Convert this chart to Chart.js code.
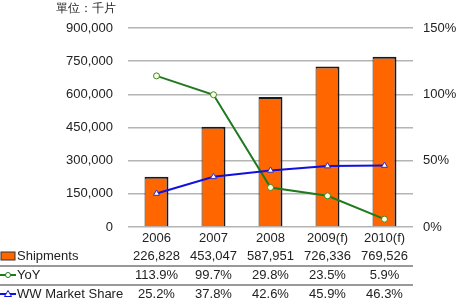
<!DOCTYPE html>
<html>
<head>
<meta charset="utf-8">
<script src="https://cdn.jsdelivr.net/npm/chart.js@4"></script>
<style>
  body { margin: 0; background: #fff; }
  #wrap { width: 463px; height: 306px; }
</style>
</head>
<body>
<div id="wrap"><canvas id="chart" width="463" height="306"></canvas></div>
<script>
// chart data
const years = ["2006", "2007", "2008", "2009(f)", "2010(f)"];
const shipments = [226828, 453047, 587951, 726336, 769526];
const yoy = [113.9, 99.7, 29.8, 23.5, 5.9];
const marketShare = [25.2, 37.8, 42.6, 45.9, 46.3];
const unitLabel = "單位：千片";

const FONT = "Liberation Sans, Arial, sans-serif";

// draws unit title + the data table under the plot
const tablePlugin = {
  id: "dataTable",
  afterDraw(chart) {
    const ctx = chart.ctx;
    const x = chart.scales.x;
    ctx.save();
    ctx.fillStyle = "#222";
    ctx.font = "12px " + FONT;
    ctx.textBaseline = "middle";
    ctx.textAlign = "left";
    ctx.fillText(unitLabel, 56, 9);

    ctx.font = "13px " + FONT;
    ctx.textAlign = "center";
    years.forEach((y, i) => ctx.fillText(y, x.getPixelForValue(i), 238));

    const rows = [
      { name: "Shipments", y: 256, vals: shipments.map(v => v.toLocaleString("en-US")) },
      { name: "YoY", y: 275, vals: yoy.map(v => v.toFixed(1) + "%") },
      { name: "WW Market Share", y: 294, vals: marketShare.map(v => v.toFixed(1) + "%") }
    ];

    // separator lines
    ctx.strokeStyle = "#999";
    ctx.lineWidth = 2;
    [266, 285].forEach(ly => {
      ctx.beginPath();
      ctx.moveTo(0, ly);
      ctx.lineTo(chart.chartArea.right, ly);
      ctx.stroke();
    });

    rows.forEach((r, ri) => {
      ctx.fillStyle = "#222";
      ctx.textAlign = "left";
      ctx.fillText(r.name, 17, r.y);
      ctx.textAlign = "center";
      r.vals.forEach((v, i) => ctx.fillText(v, x.getPixelForValue(i), r.y));

      // legend swatches
      if (ri === 0) {
        ctx.fillStyle = "#ff6600";
        ctx.strokeStyle = "#333";
        ctx.lineWidth = 1;
        ctx.fillRect(1, r.y - 4, 14, 8);
        ctx.strokeRect(1, r.y - 4, 14, 8);
      } else if (ri === 1) {
        ctx.strokeStyle = "#1e7a1e";
        ctx.lineWidth = 2;
        ctx.beginPath(); ctx.moveTo(0, r.y); ctx.lineTo(16, r.y); ctx.stroke();
        ctx.fillStyle = "#fff";
        ctx.lineWidth = 1;
        ctx.beginPath(); ctx.arc(8, r.y, 2.5, 0, Math.PI * 2); ctx.fill(); ctx.stroke();
      } else {
        ctx.strokeStyle = "#1010e0";
        ctx.lineWidth = 2;
        ctx.beginPath(); ctx.moveTo(0, r.y); ctx.lineTo(16, r.y); ctx.stroke();
        ctx.fillStyle = "#fff";
        ctx.lineWidth = 1;
        ctx.beginPath(); ctx.moveTo(8, r.y - 3.5); ctx.lineTo(11.5, r.y + 2.5); ctx.lineTo(4.5, r.y + 2.5); ctx.closePath(); ctx.fill(); ctx.stroke();
      }
    });
    ctx.restore();
  }
};

new Chart(document.getElementById("chart"), {
  data: {
    labels: years,
    datasets: [
      {
        type: "line",
        label: "YoY",
        data: yoy,
        yAxisID: "y1",
        borderColor: "#1e7a1e",
        borderWidth: 2,
        pointStyle: "circle",
        pointRadius: 3,
        pointBackgroundColor: "#ffffdd",
        pointBorderColor: "#3a8a2a",
        pointBorderWidth: 1,
        tension: 0,
        order: 1
      },
      {
        type: "line",
        label: "WW Market Share",
        data: marketShare,
        yAxisID: "y1",
        borderColor: "#1010e0",
        borderWidth: 2,
        pointStyle: "triangle",
        pointRadius: 3.5,
        pointBackgroundColor: "#ffffff",
        pointBorderColor: "#3030c0",
        pointBorderWidth: 1,
        tension: 0,
        order: 0
      },
      {
        type: "bar",
        label: "Shipments",
        data: shipments,
        yAxisID: "y",
        backgroundColor: "#ff6600",
        borderColor: "#1a1a1a",
        borderWidth: { top: 2, right: 2, left: 1, bottom: 0 },
        borderSkipped: false,
        barPercentage: 0.84,
        categoryPercentage: 0.5,
        order: 2
      }
    ]
  },
  options: {
    responsive: false,
    animation: false,
    layout: { padding: { top: 28, bottom: 79, left: 0, right: 0 } },
    plugins: { legend: { display: false }, tooltip: { enabled: false } },
    scales: {
      x: { display: false, offset: true },
      y: {
        position: "left",
        min: 0, max: 900000,
        ticks: {
          stepSize: 150000,
          padding: 15,
          color: "#222",
          font: { family: FONT, size: 13 },
          callback: v => v.toLocaleString("en-US")
        },
        grid: { color: "#b4b4b4", lineWidth: 1.5, drawTicks: false },
        border: { display: false },
        afterFit: s => { s.width = 128; }
      },
      y1: {
        position: "right",
        min: 0, max: 150,
        ticks: {
          stepSize: 50,
          padding: 10,
          color: "#222",
          font: { family: FONT, size: 13 },
          callback: v => v + "%"
        },
        grid: { display: false, drawTicks: false },
        border: { display: false },
        afterFit: s => { s.width = 50; }
      }
    }
  },
  plugins: [tablePlugin]
});
</script>
</body>
</html>
